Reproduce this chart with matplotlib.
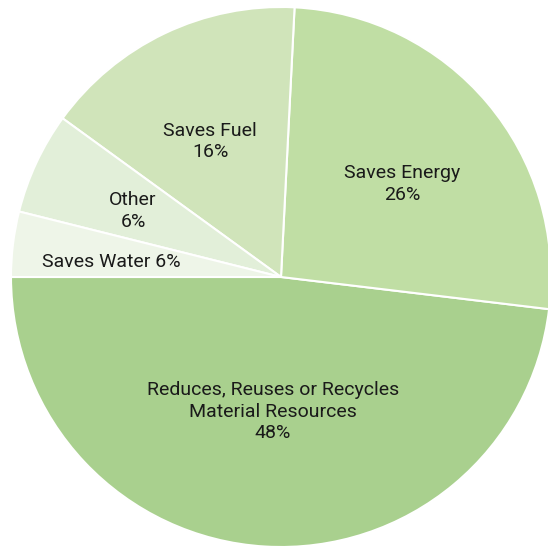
import numpy as np
import matplotlib
matplotlib.use("Agg")
import matplotlib.pyplot as plt

categories = ["Reduces, Reuses or Recycles\nMaterial Resources", "Saves Energy", "Saves Fuel", "Other", "Saves Water"]
values = [48.1, 26.1, 15.8, 6.1, 3.9]
label_texts = ["Reduces, Reuses or Recycles\nMaterial Resources\n48%", "Saves Energy\n26%",
               "Saves Fuel\n16%", "Other\n6%", "Saves Water 6%"]
colors = ["#a9d08e", "#c0dea4", "#d0e4ba", "#e2efd9", "#eef5e8"]

fig = plt.figure(figsize=(5.48, 5.48), dpi=100)
ax = fig.add_axes([0, 0, 1, 1])
wedges, _ = ax.pie(values, colors=colors, startangle=180, counterclock=True, radius=1.0,
                   wedgeprops=dict(edgecolor="white", linewidth=1.5))
ax.set_xlim(-281 / 270, 267 / 270)
ax.set_ylim(-271 / 270, 277 / 270)
ax.set_aspect("auto")
ax.axis("off")

label_r = [0.5, 0.565, 0.567, 0.6, 0.63]
label_ang = [266.6, 37.5, 117.6, 155.9, 175.0]
for txt, r, a in zip(label_texts, label_r, label_ang):
    t = np.deg2rad(a)
    ax.text(r * np.cos(t), r * np.sin(t), txt, ha="center", va="center",
            fontsize=14, family="Roboto", color="#1a1a1a", linespacing=1.25)

fig.savefig("out.png", dpi=100)
